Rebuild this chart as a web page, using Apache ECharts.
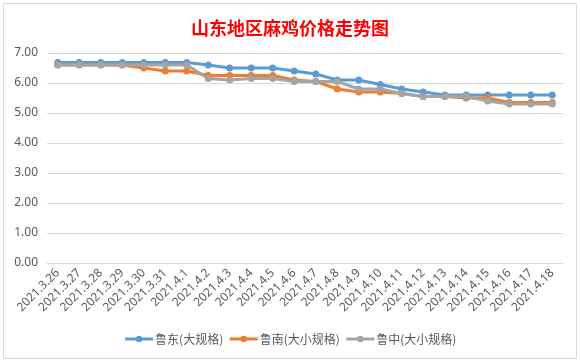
<!DOCTYPE html>
<html>
<head>
<meta charset="utf-8">
<script src="https://cdn.jsdelivr.net/npm/echarts@6/dist/echarts.min.js"></script>
<style>
html,body{margin:0;padding:0;background:#fff;}
#main{width:580px;height:363px;}
</style>
</head>
<body>
<div id="main"></div>
<script>
var categories = ['2021.3.26','2021.3.27','2021.3.28','2021.3.29','2021.3.30','2021.3.31','2021.4.1','2021.4.2','2021.4.3','2021.4.4','2021.4.5','2021.4.6','2021.4.7','2021.4.8','2021.4.9','2021.4.10','2021.4.11','2021.4.12','2021.4.13','2021.4.14','2021.4.15','2021.4.16','2021.4.17','2021.4.18'];
var ludong = [6.68,6.68,6.68,6.68,6.68,6.68,6.68,6.6,6.5,6.5,6.5,6.4,6.3,6.1,6.1,5.95,5.8,5.7,5.6,5.6,5.6,5.6,5.6,5.6];
var lunan  = [6.6,6.6,6.6,6.6,6.5,6.4,6.4,6.25,6.25,6.25,6.25,6.1,6.05,5.8,5.7,5.7,5.65,5.55,5.55,5.5,5.5,5.35,5.35,5.35];
var luzhong= [6.6,6.6,6.6,6.6,6.6,6.6,6.6,6.15,6.1,6.15,6.15,6.05,6.05,6.05,5.8,5.8,5.65,5.55,5.55,5.55,5.4,5.3,5.3,5.3];
var seriesNames = ['鲁东(大规格)','鲁南(大小规格)','鲁中(大小规格)'];
var colors = ['#5B9BD5','#ED7D31','#A5A5A5'];
var yTicks = {min:0, max:7, interval:1};

var chart = echarts.init(document.getElementById('main'), null, {renderer:'canvas'});
function mk(name, data, color){
  return {
    name:name, type:'line', data:data,
    symbol:'circle', symbolSize:7,
    lineStyle:{width:3,color:color},
    itemStyle:{color:color},
    emphasis:{disabled:true},
    animation:false
  };
}
chart.setOption({
  animation:false,
  color:colors,
  graphic:[{type:'rect',shape:{x:3.5,y:3.5,width:573,height:355},style:{fill:null,stroke:'#d9d9d9',lineWidth:1},silent:true}],
  title:{
    text:'山东地区麻鸡价格走势图', left:'center', top:14,
    textStyle:{color:'#FF0000',fontSize:18,fontWeight:'bold',fontFamily:'Noto Sans CJK SC'}
  },
  legend:{
    bottom:13, left:'center', itemWidth:28, itemHeight:8, itemGap:5,
    data:seriesNames,
    lineStyle:{width:3},
    textStyle:{color:'#595959',fontSize:12,fontFamily:'Noto Sans CJK SC',padding:[0,0,0,-3]}
  },
  grid:{left:47,right:17,top:53,bottom:100,containLabel:false},
  xAxis:{
    type:'category', data:categories, boundaryGap:true,
    axisLine:{show:true,lineStyle:{color:'#d9d9d9'}},
    axisTick:{show:false},
    axisLabel:{rotate:45,interval:0,margin:8,color:'#595959',fontSize:12,fontFamily:'Noto Sans'}
  },
  yAxis:{
    type:'value', min:yTicks.min, max:yTicks.max, interval:yTicks.interval,
    axisLine:{show:false}, axisTick:{show:false},
    splitLine:{lineStyle:{color:'#d9d9d9'}},
    axisLabel:{margin:9,color:'#595959',fontSize:12,fontFamily:'Noto Sans',formatter:function(v){return v.toFixed(2);}}
  },
  series:[mk(seriesNames[0],ludong,colors[0]),mk(seriesNames[1],lunan,colors[1]),mk(seriesNames[2],luzhong,colors[2])]
});
</script>
</body>
</html>
